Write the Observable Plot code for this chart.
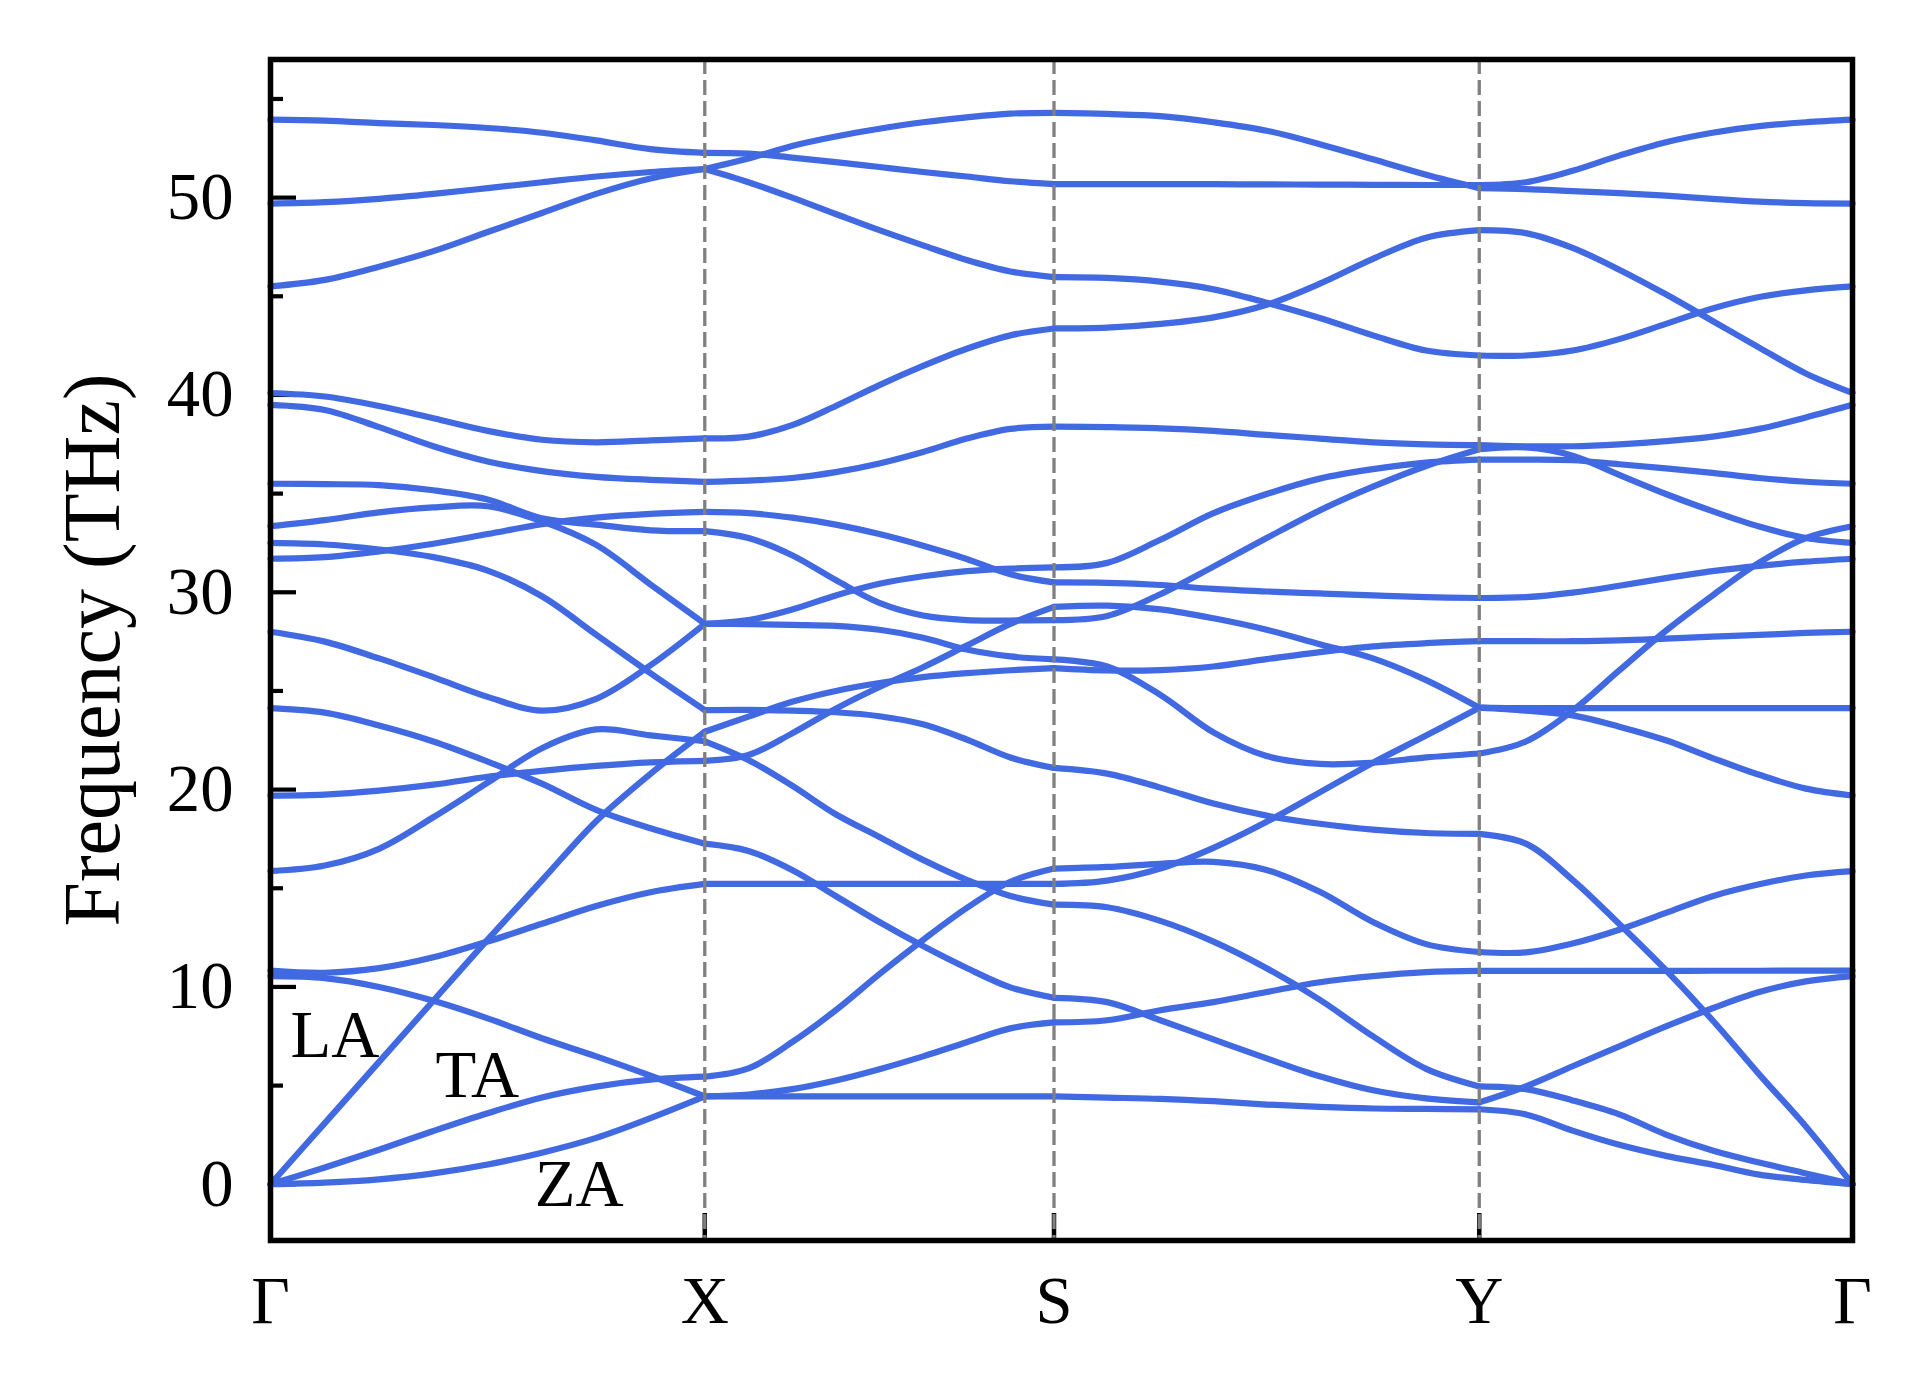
<!DOCTYPE html>
<html>
<head>
<meta charset="utf-8">
<script src="https://cdn.jsdelivr.net/npm/d3@7"></script>
<script src="https://cdn.jsdelivr.net/npm/@observablehq/plot@0.6"></script>
<style>
  html, body { margin: 0; padding: 0; background: #ffffff; }
  #chart svg { display: block; }
</style>
</head>
<body>
<div id="chart"></div>
<script>
// High-symmetry points along the path (cumulative path distance) and their labels
const kPoints = [0, 0.434, 0.783, 1.208, 1.581];
const kLabels = ["Γ", "X", "S", "Y", "Γ"];

// Y axis ticks
const yMajor = [0, 10, 20, 30, 40, 50];
const yMinor = [5, 15, 25, 35, 45, 55];

// Branch labels (path distance, frequency of text baseline)
const branchLabels = [
  { label: "LA", k: 0.020, f: 6.46 },
  { label: "TA", k: 0.165, f: 4.44 },
  { label: "ZA", k: 0.264, f: -1.08 }
];

// Frequencies (THz) of each band, read at 9 evenly spaced points per path segment
const bandsGX = [
  [53.95, 53.9, 53.78, 53.68, 53.53, 53.29, 52.9, 52.46, 52.27],
  [49.7, 49.77, 49.94, 50.19, 50.48, 50.78, 51.07, 51.3, 51.45],
  [45.5, 45.83, 46.5, 47.29, 48.26, 49.22, 50.19, 50.97, 51.45],
  [40.1, 39.92, 39.44, 38.82, 38.18, 37.73, 37.6, 37.7, 37.8],
  [39.5, 39.24, 38.37, 37.4, 36.63, 36.14, 35.85, 35.7, 35.6],
  [35.5, 35.48, 35.43, 35.17, 34.7, 33.75, 33.43, 33.14, 33.1],
  [33.35, 33.66, 34.05, 34.3, 34.36, 33.6, 32.4, 30.4, 28.4],
  [32.5, 32.42, 32.17, 31.78, 31.1, 29.8, 27.85, 25.9, 24.03],
  [31.7, 31.78, 32.07, 32.46, 32.95, 33.45, 33.78, 33.97, 34.07],
  [28.0, 27.5, 26.65, 25.7, 24.7, 24.0, 24.6, 26.3, 28.4],
  [24.13, 23.9, 23.25, 22.44, 21.42, 20.3, 18.97, 18.04, 17.26],
  [19.7, 19.75, 19.95, 20.25, 20.65, 20.95, 21.2, 21.38, 21.46],
  [15.87, 16.15, 17.0, 18.6, 20.35, 22.1, 23.05, 22.75, 22.45],
  [10.83, 10.72, 10.95, 11.5, 12.3, 13.2, 14.1, 14.8, 15.22],
  [10.55, 10.45, 10.0, 9.3, 8.41, 7.4, 6.48, 5.5, 4.45],
  [0, 3.1, 6.2, 9.3, 12.4, 15.4, 18.4, 20.8, 22.93],
  [0, 0.85, 1.75, 2.7, 3.6, 4.4, 4.95, 5.3, 5.45],
  [0, 0.08, 0.25, 0.55, 1.0, 1.6, 2.35, 3.35, 4.45]
];

const bandsXS = [
  [52.27, 52.23, 52.03, 51.8, 51.55, 51.3, 51.07, 50.83, 50.68],
  [51.45, 51.98, 52.62, 53.1, 53.49, 53.82, 54.07, 54.26, 54.3],
  [51.45, 50.78, 50.0, 49.17, 48.35, 47.58, 46.84, 46.26, 45.97],
  [37.8, 37.89, 38.47, 39.44, 40.5, 41.47, 42.34, 43.02, 43.37],
  [35.6, 35.66, 35.79, 36.09, 36.53, 37.11, 37.79, 38.28, 38.4],
  [34.07, 34.01, 33.78, 33.43, 32.95, 32.36, 31.69, 30.91, 30.5],
  [33.1, 32.75, 31.88, 30.62, 29.46, 28.82, 28.59, 28.57, 28.59],
  [28.4, 28.59, 29.13, 29.84, 30.43, 30.81, 31.07, 31.2, 31.26],
  [28.4, 28.39, 28.35, 28.3, 28.1, 27.7, 27.1, 26.75, 26.6],
  [21.46, 21.75, 22.85, 24.1, 25.2, 26.2, 27.3, 28.4, 29.26],
  [22.93, 23.7, 24.45, 25.0, 25.4, 25.7, 25.9, 26.05, 26.16],
  [24.03, 24.04, 24.0, 23.92, 23.72, 23.31, 22.54, 21.63, 21.1],
  [22.45, 21.5, 20.2, 18.75, 17.6, 16.44, 15.43, 14.61, 14.17],
  [17.26, 16.89, 15.93, 14.61, 13.29, 12.07, 10.96, 9.98, 9.45],
  [15.22, 15.22, 15.22, 15.22, 15.22, 15.22, 15.22, 15.22, 15.22],
  [5.45, 5.87, 7.2, 8.82, 10.65, 12.38, 14.0, 15.33, 16.0],
  [4.45, 4.55, 4.82, 5.26, 5.83, 6.48, 7.2, 7.9, 8.2],
  [4.45, 4.45, 4.45, 4.45, 4.45, 4.45, 4.45, 4.45, 4.45]
];

const bandsSY = [
  [54.3, 54.24, 54.13, 53.82, 53.39, 52.71, 51.94, 51.16, 50.48],
  [50.68, 50.68, 50.68, 50.68, 50.67, 50.66, 50.65, 50.64, 50.64],
  [45.97, 45.93, 45.74, 45.35, 44.67, 43.9, 43.02, 42.25, 42.0],
  [43.37, 43.41, 43.6, 43.93, 44.57, 45.64, 46.9, 47.97, 48.35],
  [38.4, 38.37, 38.31, 38.18, 37.98, 37.79, 37.6, 37.5, 37.46],
  [31.26, 31.49, 32.66, 34.01, 34.98, 35.76, 36.24, 36.57, 36.72],
  [30.5, 30.48, 30.37, 30.17, 30.04, 29.94, 29.84, 29.75, 29.71],
  [28.59, 28.8, 29.9, 31.3, 32.75, 34.15, 35.35, 36.4, 37.25],
  [29.26, 29.32, 29.13, 28.68, 28.1, 27.37, 26.65, 25.55, 24.15],
  [26.6, 26.24, 24.8, 22.9, 21.7, 21.3, 21.36, 21.63, 21.83],
  [26.16, 26.04, 26.06, 26.24, 26.61, 26.97, 27.26, 27.42, 27.52],
  [21.1, 20.81, 20.1, 19.29, 18.68, 18.27, 17.97, 17.8, 17.76],
  [16.0, 16.08, 16.24, 16.34, 15.93, 14.82, 13.29, 12.17, 11.77],
  [15.22, 15.39, 16.0, 17.05, 18.37, 19.86, 21.36, 22.74, 24.15],
  [14.17, 14.04, 13.35, 12.3, 10.95, 9.35, 7.5, 5.85, 4.96],
  [9.45, 9.23, 8.31, 7.34, 6.38, 5.47, 4.76, 4.35, 4.15],
  [8.2, 8.31, 8.82, 9.23, 9.74, 10.24, 10.55, 10.75, 10.81],
  [4.45, 4.39, 4.33, 4.21, 4.04, 3.92, 3.84, 3.82, 3.8]
];

const bandsYG = [
  [50.64, 50.78, 51.36, 52.13, 52.81, 53.29, 53.62, 53.82, 53.95],
  [50.48, 50.43, 50.33, 50.23, 50.1, 49.94, 49.8, 49.72, 49.7],
  [48.35, 48.2, 47.45, 46.35, 45.1, 43.75, 42.4, 41.09, 40.1],
  [42.0, 42.0, 42.25, 42.83, 43.6, 44.38, 44.96, 45.3, 45.5],
  [37.46, 37.4, 37.4, 37.5, 37.66, 37.89, 38.28, 38.86, 39.5],
  [37.25, 37.34, 36.92, 35.95, 34.98, 34.11, 33.33, 32.75, 32.5],
  [36.72, 36.72, 36.69, 36.49, 36.28, 36.05, 35.79, 35.6, 35.5],
  [29.71, 29.75, 29.98, 30.33, 30.72, 31.07, 31.34, 31.55, 31.7],
  [27.52, 27.52, 27.52, 27.56, 27.65, 27.75, 27.84, 27.94, 28.0],
  [24.15, 24.13, 24.13, 24.13, 24.13, 24.13, 24.13, 24.13, 24.13],
  [24.15, 24.0, 23.76, 23.19, 22.5, 21.6, 20.75, 20.05, 19.7],
  [21.83, 22.44, 24.0, 26.04, 28.05, 29.84, 31.5, 32.75, 33.35],
  [17.76, 17.26, 15.43, 13.19, 10.85, 8.31, 5.57, 2.93, 0],
  [11.77, 11.75, 12.2, 12.9, 13.75, 14.6, 15.2, 15.65, 15.87],
  [10.81, 10.81, 10.81, 10.81, 10.81, 10.82, 10.82, 10.83, 10.83],
  [4.96, 4.82, 4.25, 3.54, 2.52, 1.71, 1.1, 0.55, 0],
  [4.15, 4.96, 5.98, 6.99, 8.0, 8.92, 9.74, 10.28, 10.55],
  [3.8, 3.54, 2.72, 2.0, 1.44, 0.99, 0.49, 0.22, 0]
];

// Build a tidy table: one row per sampled point, one series per band per segment
const segments = [bandsGX, bandsXS, bandsSY, bandsYG];
const rows = [];
segments.forEach((seg, s) => {
  const k0 = kPoints[s], k1 = kPoints[s + 1];
  seg.forEach((band, b) => {
    const n = band.length - 1;
    band.forEach((f, j) => {
      rows.push({ id: `${s}-${b}`, k: k0 + (k1 - k0) * j / n, f });
    });
  });
});

const tickFont = 66.7;

const chart = Plot.plot({
  width: 1931,
  height: 1398,
  marginLeft: 270,
  marginRight: 79,
  marginTop: 59,
  marginBottom: 158,
  style: {
    fontFamily: "'Liberation Serif', 'DejaVu Serif', serif",
    background: "white",
    color: "black"
  },
  x: { domain: [kPoints[0], kPoints[kPoints.length - 1]], axis: null },
  y: { domain: [-2.85, 57], axis: null },
  marks: [
    // y tick labels
    Plot.axisY(yMajor, { anchor: "left", tickSize: 0, tickPadding: 37, fontSize: tickFont, label: null }),
    // inward major / minor y ticks
    Plot.axisY(yMajor, { anchor: "left", tickSize: 26, dx: 26, tickFormat: () => "", strokeWidth: 4.2, label: null }),
    Plot.axisY(yMinor, { anchor: "left", tickSize: 13, dx: 13, tickFormat: () => "", strokeWidth: 4.2, label: null }),
    // inward x ticks at high-symmetry points
    Plot.axisX(kPoints, { anchor: "bottom", tickSize: 27, dy: -27, tickFormat: () => "", strokeWidth: 4.5, label: null }),
    // phonon bands
    Plot.line(rows, {
      x: "k", y: "f", z: "id",
      stroke: "#4169E1", strokeWidth: 6.2,
      curve: "catmull-rom",
      strokeLinecap: "round", strokeLinejoin: "round"
    }),
    // dashed separators at X, S, Y
    Plot.ruleX(kPoints.slice(1, -1), { stroke: "#808080", strokeWidth: 3.3, strokeDasharray: "15,6" }),
    // frame
    Plot.frame({ stroke: "black", strokeWidth: 5.5 }),
    // high-symmetry labels
    Plot.text(kPoints, {
      x: d => d, text: (d, i) => kLabels[i],
      frameAnchor: "bottom", lineAnchor: "top", dy: 35,
      fontSize: tickFont, fill: "black"
    }),
    // y axis title
    Plot.text(["Frequency (THz)"], {
      frameAnchor: "left", rotate: -90, dx: -152,
      textAnchor: "middle", lineAnchor: "bottom",
      fontSize: 80, fill: "black"
    }),
    // branch labels
    Plot.text(branchLabels, {
      x: "k", y: "f", text: "label",
      textAnchor: "start", lineAnchor: "bottom",
      fontSize: tickFont, fill: "black"
    })
  ]
});

document.getElementById("chart").appendChild(chart);
</script>
</body>
</html>
